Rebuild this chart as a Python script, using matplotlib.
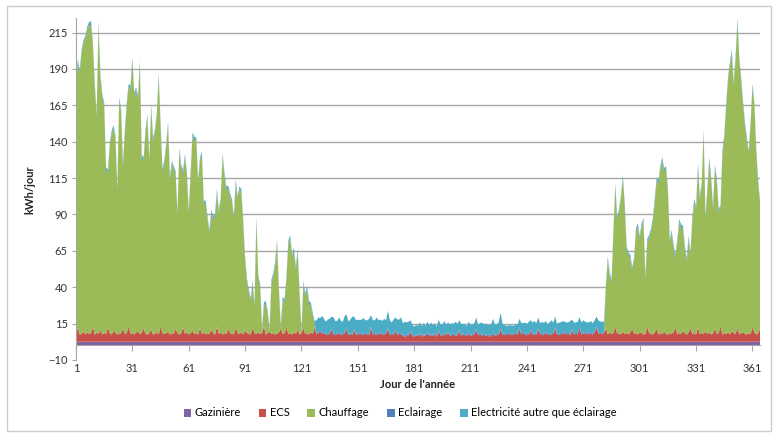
import numpy as np
import matplotlib.pyplot as plt
from matplotlib.patches import Rectangle

plt.rcParams['font.family'] = ['Lato', 'DejaVu Sans']

# day of year 1..365
DAYS = np.arange(1, 366)

# kWh/day
GAZINIERE = 2.5
ECLAIRAGE = 0.8
ELEC_HIVER = 1.5

ECS = [
    6.0, 9.5, 5.0, 5.5, 7.0, 5.0, 6.5,
    5.5, 6.0, 10.5, 5.0, 6.5, 5.5, 8.0,
    5.0, 6.0, 5.5, 10.0, 6.0, 5.0, 7.5,
    6.5, 5.0, 5.5, 6.0, 9.0, 5.5, 6.0,
    11.0, 5.5, 6.0, 5.0, 6.5, 7.0, 5.5,
    6.0, 9.5, 5.5, 5.0, 6.0, 8.5, 5.0,
    5.5, 6.5, 5.0, 10.5, 6.0, 5.5, 6.0,
    7.0, 5.0, 6.0, 5.5, 9.0, 6.0, 5.0,
    6.0, 10.0, 5.5, 6.5, 5.0, 6.0, 7.5,
    5.5, 6.0, 5.0, 9.5, 5.5, 6.5, 5.0,
    6.0, 5.5, 8.5, 6.0, 5.0, 10.5, 5.5,
    6.5, 5.0, 6.0, 5.5, 9.0, 6.0, 5.5,
    5.0, 10.0, 6.0, 5.5, 6.5, 5.0, 8.0,
    6.0, 5.5, 5.0, 9.5, 6.0, 5.5, 6.5,
    5.5, 6.0, 10.5, 5.0, 6.0, 7.0, 5.5,
    6.0, 5.0, 5.5, 6.5, 9.0, 5.5, 6.0,
    10.0, 5.5, 6.0, 5.0, 6.5, 5.5, 8.5,
    5.0, 6.0, 9.5, 5.5, 6.0, 5.0, 6.5,
    5.5, 10.0, 5.0, 6.0, 7.0, 5.5, 6.0,
    5.0, 4.5, 5.5, 8.5, 5.0, 4.5, 5.0,
    6.0, 4.5, 5.0, 5.5, 9.0, 4.5, 5.0,
    4.5, 8.0, 5.0, 4.5, 6.0, 5.0, 4.5,
    5.5, 5.0, 4.5, 9.5, 5.0, 5.5, 4.5,
    5.0, 6.5, 4.5, 5.0, 5.5, 8.5, 5.0,
    4.5, 5.0, 7.5, 4.5, 5.5, 5.0, 4.0,
    3.5, 4.0, 4.5, 6.5, 4.0, 3.5, 4.5,
    4.0, 5.5, 3.5, 4.5, 4.0, 6.0, 4.0,
    4.5, 4.0, 5.0, 3.5, 7.0, 4.5, 4.0,
    5.0, 4.5, 6.5, 4.0, 4.5, 5.0, 4.0,
    4.5, 7.5, 4.0, 5.0, 4.5, 4.0, 5.5,
    4.0, 4.5, 5.0, 8.0, 4.5, 5.0, 4.0,
    5.0, 4.0, 4.5, 3.5, 4.0, 5.5, 4.0,
    4.5, 5.0, 8.5, 4.5, 5.0, 4.5, 5.5,
    5.0, 4.5, 5.0, 6.0, 4.5, 9.0, 5.0,
    5.5, 5.0, 4.5, 5.0, 7.5, 5.0, 4.5,
    5.0, 8.5, 5.5, 4.5, 5.0, 6.0, 5.0,
    4.5, 5.0, 5.5, 9.0, 5.0, 4.5, 5.5,
    5.0, 6.5, 5.0, 5.5, 4.5, 8.0, 5.0,
    5.5, 5.0, 9.5, 5.0, 5.5, 6.0, 5.0,
    6.0, 5.5, 5.0, 6.5, 10.0, 5.5, 6.0,
    5.5, 6.0, 9.5, 5.0, 6.5, 5.5, 6.0,
    10.5, 5.5, 6.0, 5.0, 7.0, 5.5, 6.0,
    5.0, 6.5, 9.0, 5.5, 6.0, 5.0, 6.5,
    6.0, 5.0, 5.5, 10.5, 6.0, 5.5, 5.0,
    6.5, 9.0, 5.0, 6.0, 5.5, 7.0, 5.5,
    5.0, 6.0, 5.5, 6.5, 10.0, 5.0, 6.0,
    5.5, 7.5, 6.0, 5.0, 6.5, 9.5, 5.5,
    6.0, 5.0, 10.0, 5.5, 6.0, 5.5, 7.0,
    5.5, 6.5, 5.0, 6.0, 9.0, 5.5, 6.0,
    10.5, 5.0, 6.0, 5.5, 6.5, 5.0, 7.5,
    6.0, 5.5, 9.5, 5.0, 6.0, 6.5, 5.5,
    5.0, 6.0, 5.5, 10.0, 6.5, 5.0, 6.0,
    9.0,
]

# chauffage, days 1-128
CHAUFFAGE_DEBUT = [
    174, 182, 180, 193, 198, 203, 208, 212, 212, 193,
    170, 148, 212, 173, 163, 156, 112, 106, 129, 138,
    139, 133, 99, 160, 152, 111, 138, 156, 164, 168,
    187, 164, 166, 160, 185, 120, 115, 138, 149, 118,
    152, 133, 138, 148, 177, 138, 111, 117, 128, 142,
    106, 116, 113, 106, 81, 126, 113, 106, 121, 108,
    83, 108, 134, 133, 132, 104, 115, 123, 88, 90,
    78, 69, 80, 78, 81, 92, 83, 90, 122, 108,
    99, 96, 94, 90, 80, 99, 92, 99, 96, 76,
    48, 35, 28, 23, 30, 18, 78, 37, 32, 1,
    14, 21, 13, 0, 35, 39, 48, 62, 28, 0,
    23, 21, 33, 62, 65, 53, 56, 44, 53, 26,
    0, 30, 26, 30, 21, 18, 12, 2,
]
# no heating, days 129-282
JOURS_ETE = 154
# chauffage, days 283-365
CHAUFFAGE_FIN = [
    28, 51, 39, 35, 68, 96, 78, 83, 93, 105,
    88, 58, 54, 51, 40, 50, 70, 74, 64, 73,
    78, 37, 58, 65, 70, 78, 90, 101, 104, 113,
    119, 110, 113, 98, 62, 69, 58, 48, 63, 76,
    73, 70, 58, 50, 64, 50, 78, 90, 86, 110,
    92, 101, 138, 78, 98, 118, 106, 85, 110, 105,
    83, 81, 124, 134, 156, 173, 185, 191, 170, 188,
    210, 188, 173, 156, 143, 133, 123, 143, 165, 156,
    126, 103, 86,
]

# electricite autre que eclairage, days 129-282
ELEC_ETE = [
    9, 10, 8.5, 11.5, 9, 8, 10,
    9.5, 8, 11, 9, 8.5, 10, 9,
    8, 11.5, 9, 8.5, 9.5, 12, 8.5,
    9, 10, 8, 9.5, 11, 8.5, 9,
    10.5, 8, 9, 8.5, 11.5, 9, 8,
    9, 10, 8.5, 12, 9, 8, 9.5,
    8.5, 10, 9, 11, 8, 9.5, 8.5,
    8.5, 7.5, 7, 6, 6.5, 6, 7,
    6.5, 7.5, 6, 7, 6.5, 8, 6.5,
    7, 6, 7.5, 6.5, 7, 8.5, 6.5,
    6, 7, 7.5, 6.5, 9, 7, 6.5,
    7.5, 6.5, 7, 6, 7.5, 7, 6.5,
    7, 8, 6.5, 7, 8.5, 6.5, 7.5,
    6.5, 7, 7.5, 9.5, 7, 6.5, 8,
    10.5, 7, 6, 5.5, 5, 5.5, 6,
    5, 5.5, 6.5, 6, 7, 6.5, 7.5,
    7, 8, 6.5, 7.5, 9, 7, 7.5,
    6.5, 8.5, 7, 7.5, 6.5, 8, 9,
    7, 7.5, 6.5, 8, 7, 8.5, 6.5,
    7.5, 7, 9, 6.5, 7.5, 7, 8,
    6.5, 7.5, 8.5, 7, 7.5, 6.5, 8,
    7, 7.5, 6.5, 8.5, 7, 7.5, 7,
]

LABELS = ['Gazinière', 'ECS', 'Chauffage', 'Eclairage',
          'Electricité autre que éclairage']
COLORS = ['#8064A2', '#C8504B', '#9BBB59', '#4F81BD', '#4BACC6']
X_TICKS = np.arange(1, 366, 30)
Y_TICKS = np.arange(-10, 216, 25)

chauffage = np.concatenate([CHAUFFAGE_DEBUT, np.zeros(JOURS_ETE), CHAUFFAGE_FIN])
elec = np.concatenate([np.full(len(CHAUFFAGE_DEBUT), ELEC_HIVER), ELEC_ETE,
                       np.full(len(CHAUFFAGE_FIN), ELEC_HIVER)])
gaz = np.full(len(DAYS), GAZINIERE)
ecl = np.full(len(DAYS), ECLAIRAGE)

fig = plt.figure(figsize=(7.79, 4.34), dpi=100)
ax = fig.add_axes([76 / 779, 1 - 360 / 434, 684 / 779, 342 / 434])

grid_c = '#a6a6a6'
for v in Y_TICKS[1:]:
    ax.axhline(v, color=grid_c, lw=1, zorder=0)

polys = ax.stackplot(DAYS, gaz, ECS, chauffage, ecl, elec,
                     colors=COLORS, labels=LABELS, lw=0, zorder=2)

ax.set_xlim(1, 365)
ax.set_ylim(-10, 225)

for s in ['top', 'right', 'bottom']:
    ax.spines[s].set_visible(False)
ax.spines['left'].set_color(grid_c)

ax.set_yticks(Y_TICKS)
ax.tick_params(axis='y', length=3, color=grid_c, labelsize=8,
               labelcolor='#333333', pad=3)
ax.set_xticks(X_TICKS)
ax.tick_params(axis='x', length=0, labelsize=8, labelcolor='#333333', pad=2)

# category axis crosses at 0, like Excel
sec = ax.secondary_xaxis(10 / 235)
sec.set_xticks(X_TICKS)
sec.set_xticklabels([])
sec.tick_params(length=4, direction='out', color=grid_c)
sec.spines['bottom'].set_color(grid_c)

fig.text(30 / 779, 1 - 190 / 434, 'kWh/jour', rotation=90, ha='center',
         va='center', fontsize=8, fontweight='bold', color='#222222')
fig.text(418 / 779, 1 - 385 / 434, "Jour de l'année", ha='center',
         va='center', fontsize=8, fontweight='bold', color='#222222')

fig.legend(handles=polys, labels=LABELS, loc='center',
           bbox_to_anchor=(400 / 779, 1 - 413 / 434), ncol=5, frameon=False,
           fontsize=8, handlelength=0.7, handleheight=0.7,
           handletextpad=0.3, columnspacing=1.6)

fig.patches.append(Rectangle((7 / 779, 3 / 434), 764 / 779, 425 / 434,
                             transform=fig.transFigure, fill=False,
                             edgecolor='#cccccc', lw=1))

fig.savefig('out.png', dpi=100)
